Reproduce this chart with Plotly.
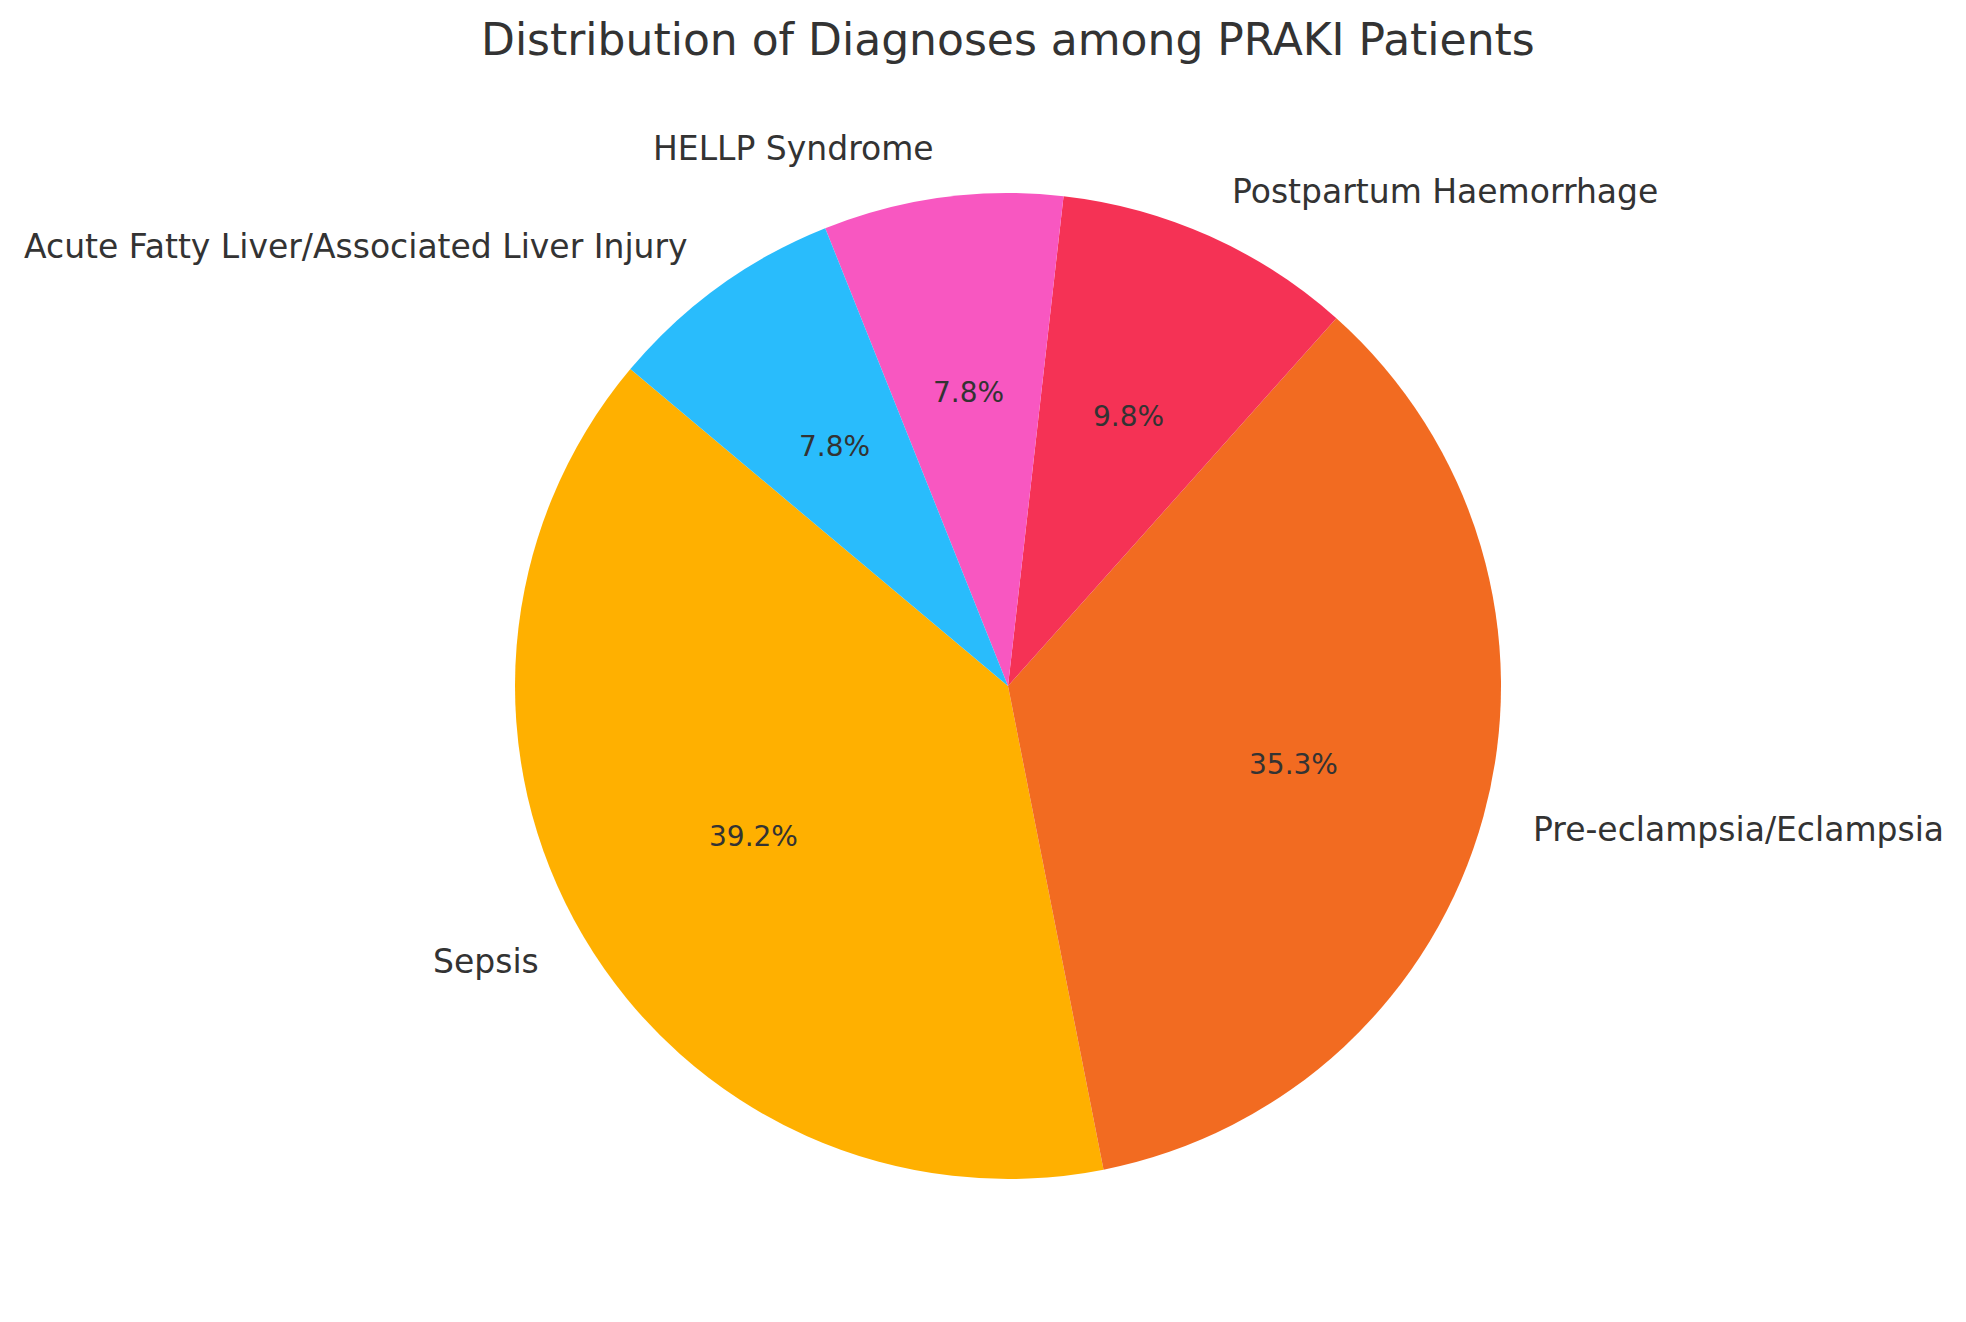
import math
import plotly.graph_objects as go

categories = ["Sepsis", "Pre-eclampsia/Eclampsia", "Postpartum Haemorrhage",
              "HELLP Syndrome", "Acute Fatty Liver/Associated Liver Injury"]
counts = [20, 18, 5, 4, 4]
colors = ["#FFB000", "#F26B21", "#F53255", "#F857C1", "#29BCFC"]
title_text = "Distribution of Diagnoses among PRAKI Patients"

W, H = 1966, 1322
cx, cy, R = 1008, 686, 493   # pie center / radius in pixels
start_angle = 140            # degrees, counterclockwise from 3 o'clock
font_family = "DejaVu Sans"
text_color = "#333333"

total = sum(counts)
# plotly (counterclockwise) puts the END of the first slice at `rotation`
first_span = 360 * counts[0] / total
rotation = 90 - (start_angle + first_span)

fig = go.Figure()
fig.add_trace(go.Pie(
    labels=categories, values=counts, sort=False,
    direction="counterclockwise", rotation=rotation,
    marker=dict(colors=colors, line=dict(width=0)),
    textinfo="none", hoverinfo="label+percent", showlegend=False,
    domain=dict(x=[(cx - R) / W, (cx + R) / W],
                y=[1 - (cy + R) / H, 1 - (cy - R) / H]),
))

annotations = []
ang = start_angle
for lab, v in zip(categories, counts):
    span = 360 * v / total
    mid = math.radians(ang + span / 2)
    ang += span
    c, s = math.cos(mid), math.sin(mid)
    # outer label
    lx, ly = cx + 1.1 * R * c, cy - 1.1 * R * s
    annotations.append(dict(
        x=lx / W, y=1 - ly / H, xref="paper", yref="paper", text=lab,
        showarrow=False, xanchor="left" if c > 0 else "right", yanchor="middle",
        font=dict(family=font_family, size=33, color=text_color)))
    # percentage
    px_, py_ = cx + 0.6 * R * c, cy - 0.6 * R * s
    annotations.append(dict(
        x=px_ / W, y=1 - py_ / H, xref="paper", yref="paper",
        text=f"{100 * v / total:.1f}%", showarrow=False,
        xanchor="center", yanchor="middle",
        font=dict(family=font_family, size=28, color=text_color)))

annotations.append(dict(
    x=cx / W, y=1 - 40 / H, xref="paper", yref="paper", text=title_text,
    showarrow=False, xanchor="center", yanchor="middle",
    font=dict(family=font_family, size=44, color=text_color)))

fig.update_layout(
    width=W, height=H, margin=dict(l=0, r=0, t=0, b=0),
    paper_bgcolor="white", plot_bgcolor="white",
    annotations=annotations,
)
fig.write_html("out.html")
